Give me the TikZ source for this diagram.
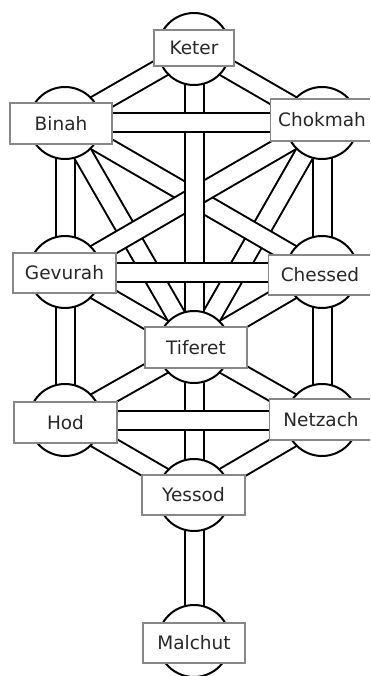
\documentclass[tikz,border=0pt]{standalone}
\usepackage{fontspec}
\setmainfont{DejaVu Sans}
\definecolor{boxgray}{RGB}{135,135,135}
\definecolor{txtgray}{RGB}{40,40,40}
\pgfdeclarelayer{bg}
\pgfsetlayers{bg,main}
\begin{document}
\begin{tikzpicture}[x=1pt,y=-1pt,
  sef/.style={circle, draw=black, line width=2pt, fill=white, minimum size=72pt, inner sep=0pt},
  lbl/.style={rectangle, draw=boxgray, line width=1.2pt, fill=white, text=txtgray,
    font=\fontsize{18.5}{22}\selectfont, inner sep=0pt, minimum width=103pt, minimum height=41pt},
  chan/.style={line width=2pt, draw=black, double=white, double distance=17pt}]
\useasboundingbox (0,0) rectangle (370,676);
\begin{scope}
\clip (0,0) rectangle (370,676);
% sefirot circles
\node[sef] (keter)   at (194,49)  {};
\node[sef] (binah)   at (65,123)  {};
\node[sef] (chokmah) at (322,123) {};
\node[sef] (gevurah) at (65,272)  {};
\node[sef] (chessed) at (322,272) {};
\node[sef] (tiferet) at (194,347) {};
\node[sef] (hod)     at (65,420)  {};
\node[sef] (netzach) at (322,420) {};
\node[sef] (yessod)  at (194,495) {};
\node[sef] (malchut) at (194,641) {};
% labels
\node[lbl, minimum width=80pt, minimum height=36pt] (keterL) at (194,48) {Keter};
\node[lbl, minimum width=102pt] (binahL)   at (61,123.5)  {Binah};
\node[lbl, minimum height=42pt] (chokmahL) at (322,120)  {Chokmah};
\node[lbl, minimum height=40pt] (gevurahL) at (64.5,273)  {Gevurah};
\node[lbl, minimum height=40pt] (chessedL) at (320,275)  {Chessed};
\node[lbl, minimum width=102pt] (tiferetL) at (196,347.5) {Tiferet};
\node[lbl] (hodL)     at (65.5,422.5) {Hod};
\node[lbl] (netzachL) at (321,419.5)  {Netzach};
\node[lbl, minimum height=40pt] (yessodL)  at (193.5,495) {Yessod};
\node[lbl, minimum width=102pt, minimum height=40pt] (malchutL) at (194,643) {Malchut};
\end{scope}
\begin{pgfonlayer}{bg}
\clip (0,0) rectangle (370,676);
% lower paths
\draw[chan] (keter.center) -- (binah.center);
\draw[chan] (keter.center) -- (chokmah.center);
\draw[chan] (binah.center) -- (gevurah.center);
\draw[chan] (chokmah.center) -- (chessed.center);
\draw[chan] (binah.center) -- (tiferet.center);
\draw[chan] (chokmah.center) -- (tiferet.center);
\draw[chan] (gevurah.center) -- (tiferet.center);
\draw[chan] (chessed.center) -- (tiferet.center);
\draw[chan] (gevurah.center) -- (hod.center);
\draw[chan] (chessed.center) -- (netzach.center);
\draw[chan] (tiferet.center) -- (hod.center);
\draw[chan] (tiferet.center) -- (netzach.center);
\draw[chan] (hod.center) -- (yessod.center);
\draw[chan] (netzach.center) -- (yessod.center);
\draw[chan] (yessod.center) -- (malchut.center);
% crossing diagonals
\draw[chan] (binah.center) -- (chessed.center);
\draw[chan] (chokmah.center) -- (gevurah.center);
% middle pillar
\draw[chan] (keter.center) -- (tiferet.center);
\draw[chan] (tiferet.center) -- (yessod.center);
% horizontals
\draw[chan] (binah.center) -- (chokmah.center);
\draw[chan] (gevurah.center) -- (chessed.center);
\draw[chan] (hod.center) -- (netzach.center);
\end{pgfonlayer}
\end{tikzpicture}
\end{document}
